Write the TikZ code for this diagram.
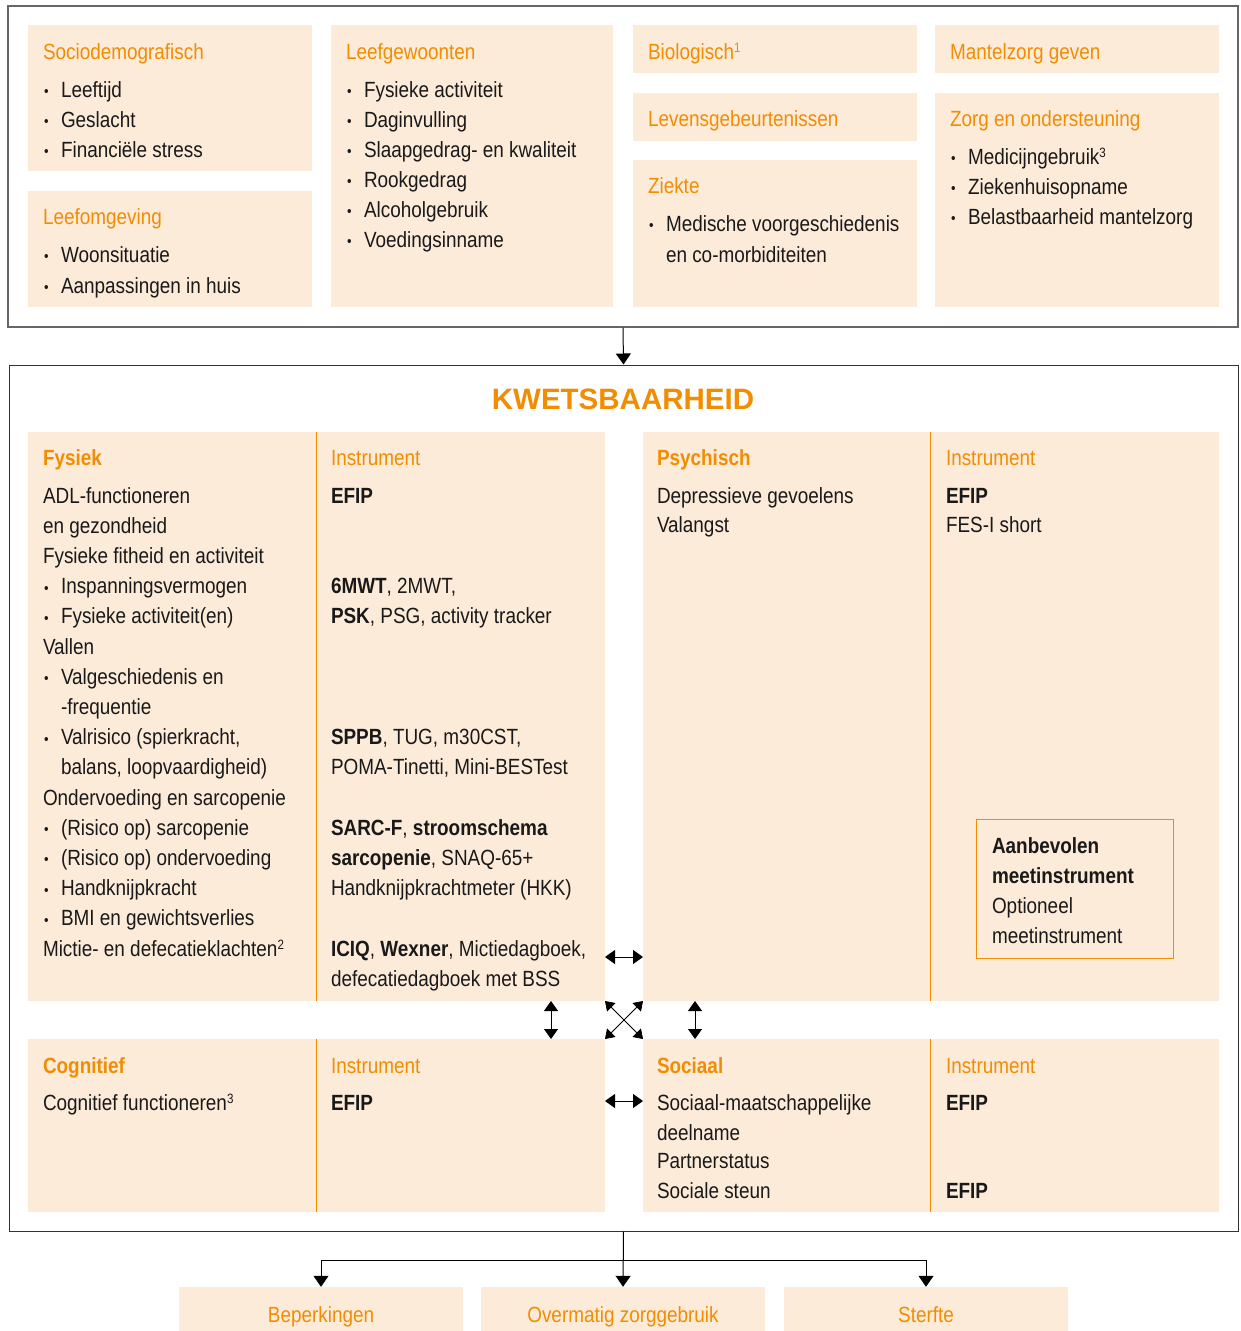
\documentclass[tikz,border=0pt]{standalone}
\usepackage{fontspec}
\setmainfont{Liberation Sans}[FakeStretch=0.86]
\newfontfamily\headfont{Liberation Sans}
\usetikzlibrary{arrows.meta,fit}
\definecolor{peach}{RGB}{253,235,218}
\definecolor{org}{RGB}{242,140,0}
\newcommand\bodyfont{\fontsize{22}{30}\selectfont}
\newcommand\sups[1]{\raisebox{7pt}{\fontsize{13.5}{13.5}\selectfont #1}}
\newcommand\tl[4]{\node[txt] (#1) at (#2,#3) {#4};}
\newcommand\bl[4]{\node[txt] (#1b) at (#2,#3) {\raisebox{0.5pt}{\fontsize{15}{15}\selectfont •}};\node[txt] (#1) at (#2+17,#3) {#4};}
\newcommand\ttx[4]{\node[ttl] (#1) at (#2,#3) {#4};}
\newcommand\ttb[4]{\node[ttlb] (#1) at (#2,#3) {#4};}
\begin{document}
\begin{tikzpicture}[x=1pt,y=-1pt,
 box/.style={fill=peach,inner sep=0,draw=none},
 frame/.style={inner sep=0,draw=black!70,line width=1.2pt,fill=none},
 txt/.style={anchor=base west,inner sep=0,outer sep=0,font=\bodyfont,text=black!90},
 ttl/.style={txt,text=org},
 ttlb/.style={txt,text=org,font=\bodyfont\bfseries},
 divl/.style={draw=org,line width=1pt},
 arr/.style={line width=1pt,-{Triangle[width=15pt,length=11pt]}},
 dbl/.style={line width=1pt,{Triangle[width=14pt,length=10pt]}-{Triangle[width=14pt,length=10pt]}},
 xdbl/.style={line width=0.8pt,{Triangle[width=12pt,length=9pt]}-{Triangle[width=12pt,length=9pt]}}]
\useasboundingbox (0,0) rectangle (1240,1331);

% ---------- top section ----------
\node[frame,draw=black!60,fit={(8,6) (1238,327)}] (top) {};
\node[box,fit={(28,25) (312,171)}] (socio) {};
\node[box,fit={(28,191) (312,307)}] (omg) {};
\node[box,fit={(331,25) (613,307)}] (gew) {};
\node[box,fit={(633,25) (917,73)}] (bio) {};
\node[box,fit={(633,93) (917,141)}] (lev) {};
\node[box,fit={(633,160) (917,307)}] (ziek) {};
\node[box,fit={(935,25) (1219,73)}] (mant) {};
\node[box,fit={(935,93) (1219,307)}] (zorg) {};

\ttx{sociot}{43}{59}{Sociodemografisch}
\bl{s1}{44}{97}{Leeftijd}
\bl{s2}{44}{127}{Geslacht}
\bl{s3}{44}{157}{Financiële stress}

\ttx{omgt}{43}{224}{Leefomgeving}
\bl{o1}{44}{262}{Woonsituatie}
\bl{o2}{44}{293}{Aanpassingen in huis}

\ttx{gewt}{346}{59}{Leefgewoonten}
\bl{g1}{347}{97}{Fysieke activiteit}
\bl{g2}{347}{127}{Daginvulling}
\bl{g3}{347}{157}{Slaapgedrag- en kwaliteit}
\bl{g4}{347}{187}{Rookgedrag}
\bl{g5}{347}{217}{Alcoholgebruik}
\bl{g6}{347}{247}{Voedingsinname}

\ttx{biot}{648}{59}{Biologisch\sups{1}}
\ttx{levt}{648}{126}{Levensgebeurtenissen}
\ttx{ziekt}{648}{193}{Ziekte}
\bl{z1}{649}{231}{Medische voorgeschiedenis}
\tl{z2}{666}{262}{en co-morbiditeiten}

\ttx{mantt}{950}{59}{Mantelzorg geven}
\ttx{zorgt}{950}{126}{Zorg en ondersteuning}
\bl{zo1}{951}{164}{Medicijngebruik\sups{3}}
\bl{zo2}{951}{194}{Ziekenhuisopname}
\bl{zo3}{951}{224}{Belastbaarheid mantelzorg}

% ---------- middle section ----------
\node[frame,draw=black!80,line width=1pt,fit={(9,365) (1238,1231)}] (mid) {};
\draw[arr] (top.south) -- (mid.north);
\node[anchor=base,inner sep=0,text=org,font=\headfont\fontsize{29.5}{30}\selectfont\bfseries] (kw) at (623,409) {KWETSBAARHEID};

\node[box,fit={(28,432) (605,1001)}] (fys) {};
\node[box,fit={(643,432) (1219,1001)}] (psy) {};
\node[box,fit={(28,1039) (605,1212)}] (cog) {};
\node[box,fit={(643,1039) (1219,1212)}] (soc) {};
\draw[divl] (316,432) -- (316,1001);
\draw[divl] (930,432) -- (930,1001);
\draw[divl] (316,1039) -- (316,1212);
\draw[divl] (930,1039) -- (930,1212);

% Fysiek
\ttb{fyst}{43}{465}{Fysiek}
\tl{f1}{43}{503}{ADL-functioneren}
\tl{f2}{43}{533.2}{en gezondheid}
\tl{f3}{43}{563.4}{Fysieke fitheid en activiteit}
\bl{f4}{44}{593.6}{Inspanningsvermogen}
\bl{f5}{44}{623.8}{Fysieke activiteit(en)}
\tl{f6}{43}{654}{Vallen}
\bl{f7}{44}{684.2}{Valgeschiedenis en}
\tl{f8}{61}{714.4}{-frequentie}
\bl{f9}{44}{744.6}{Valrisico (spierkracht,}
\tl{f10}{61}{774.8}{balans, loopvaardigheid)}
\tl{f11}{43}{805}{Ondervoeding en sarcopenie}
\bl{f12}{44}{835.2}{(Risico op) sarcopenie}
\bl{f13}{44}{865.4}{(Risico op) ondervoeding}
\bl{f14}{44}{895.6}{Handknijpkracht}
\bl{f15}{44}{925.8}{BMI en gewichtsverlies}
\tl{f16}{43}{956}{Mictie- en defecatieklachten\sups{2}}

\ttx{fysi}{331}{465}{Instrument}
\tl{i1}{331}{503}{\textbf{EFIP}}
\tl{i2}{331}{593.6}{\textbf{6MWT}, 2MWT,}
\tl{i3}{331}{623.8}{\textbf{PSK}, PSG, activity tracker}
\tl{i4}{331}{744.6}{\textbf{SPPB}, TUG, m30CST,}
\tl{i5}{331}{774.8}{POMA-Tinetti, Mini-BESTest}
\tl{i6}{331}{835.2}{\textbf{SARC-F}, \textbf{stroomschema}}
\tl{i7}{331}{865.4}{\textbf{sarcopenie}, SNAQ-65+}
\tl{i8}{331}{895.6}{Handknijpkrachtmeter (HKK)}
\tl{i9}{331}{956}{\textbf{ICIQ}, \textbf{Wexner}, Mictiedagboek,}
\tl{i10}{331}{986.2}{defecatiedagboek met BSS}

% Psychisch
\ttb{psyt}{657}{465}{Psychisch}
\tl{p1}{657}{503}{Depressieve gevoelens}
\tl{p2}{657}{532}{Valangst}
\ttx{psyi}{946}{465}{Instrument}
\tl{pi1}{946}{503}{\textbf{EFIP}}
\tl{pi2}{946}{532}{FES-I short}

% legend
\node[inner sep=0,draw=org,line width=1pt,fit={(976,819) (1173,958)}] (legend) {};
\tl{l1}{992}{853}{\textbf{Aanbevolen}}
\tl{l2}{992}{883}{\textbf{meetinstrument}}
\tl{l3}{992}{913}{Optioneel}
\tl{l4}{992}{943}{meetinstrument}

% Cognitief
\ttb{cogt}{43}{1073}{Cognitief}
\tl{c1}{43}{1110}{Cognitief functioneren\sups{3}}
\ttx{cogi}{331}{1073}{Instrument}
\tl{ci1}{331}{1110}{\textbf{EFIP}}

% Sociaal
\ttb{soct}{657}{1073}{Sociaal}
\tl{so1}{657}{1110}{Sociaal-maatschappelijke}
\tl{so2}{657}{1140}{deelname}
\tl{so3}{657}{1168}{Partnerstatus}
\tl{so4}{657}{1198}{Sociale steun}
\ttx{soci}{946}{1073}{Instrument}
\tl{si1}{946}{1110}{\textbf{EFIP}}
\tl{si2}{946}{1198}{\textbf{EFIP}}

% arrows between domains
\coordinate (ha1) at (605,957); \coordinate (ha2) at (643,957);
\coordinate (hb1) at (605,1101); \coordinate (hb2) at (643,1101);
\coordinate (va1) at (551,1001); \coordinate (va2) at (551,1039);
\coordinate (vb1) at (695,1001); \coordinate (vb2) at (695,1039);
\coordinate (xa) at (605,1001); \coordinate (xb) at (643,1001);
\coordinate (xc) at (605,1039); \coordinate (xd) at (643,1039);
\draw[dbl] (ha1) -- (ha2);
\draw[dbl] (hb1) -- (hb2);
\draw[dbl] (va1) -- (va2);
\draw[dbl] (vb1) -- (vb2);
\draw[xdbl] (xa) -- (xd);
\draw[xdbl] (xb) -- (xc);

% ---------- outcomes ----------
\node[box,fit={(179,1287) (463,1331)}] (bep) {};
\node[box,fit={(481,1287) (765,1331)}] (over) {};
\node[box,fit={(784,1287) (1068,1331)}] (ster) {};
\node[anchor=base,inner sep=0,text=org,font=\bodyfont] (bept) at (321,1322) {Beperkingen};
\node[anchor=base,inner sep=0,text=org,font=\bodyfont] (overt) at (623,1322) {Overmatig zorggebruik};
\node[anchor=base,inner sep=0,text=org,font=\bodyfont] (stert) at (926,1322) {Sterfte};
\coordinate (bj) at (623,1260);
\draw[arr] (mid.south) -- (over.north);
\draw[arr] (bj) -| (bep.north);
\draw[arr] (bj) -| (ster.north);
\end{tikzpicture}
\end{document}
